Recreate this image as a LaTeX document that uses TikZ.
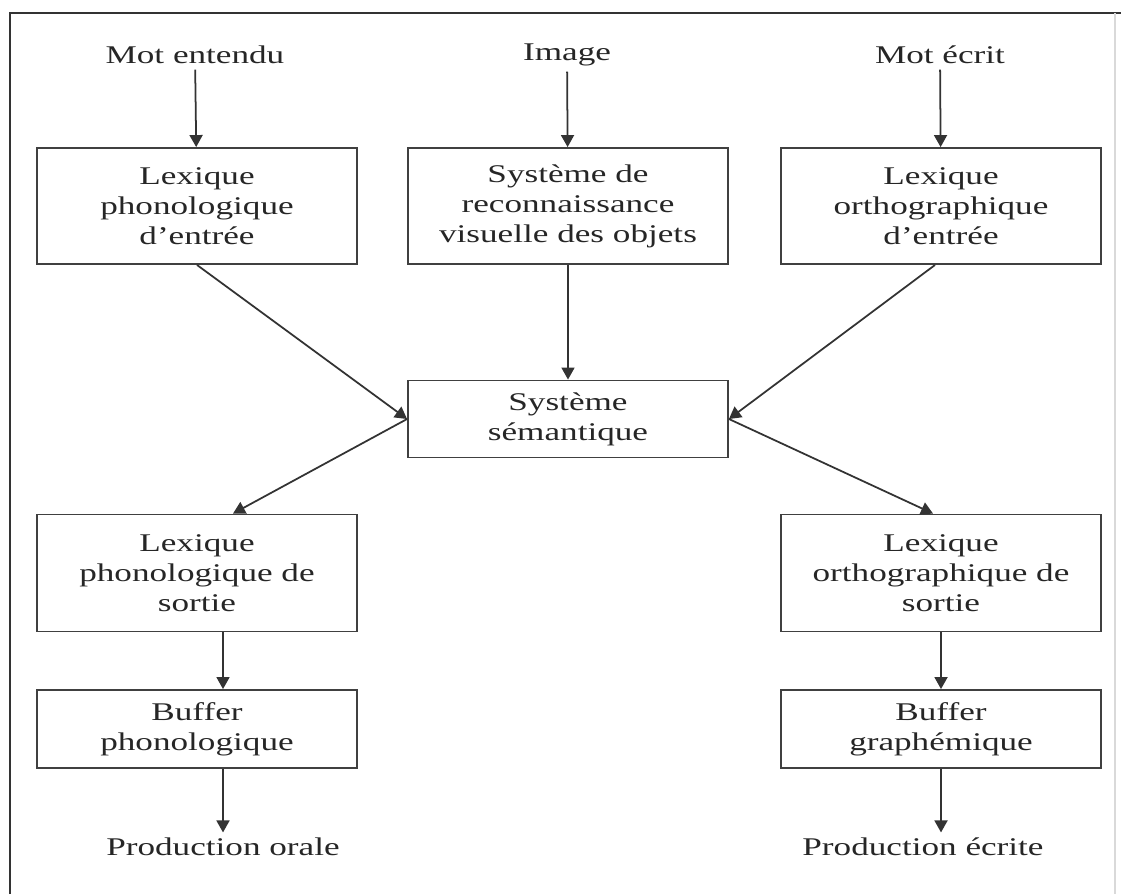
\documentclass[tikz,border=0pt]{standalone}
\usepackage{fontspec}
\setmainfont{Liberation Serif}[FakeStretch=1.38]
\usepackage{tikz}
\usetikzlibrary{arrows.meta}

\begin{document}
\begin{tikzpicture}[x=0.02cm,y=-0.02cm,
  font=\fontsize{14.5}{17}\selectfont,
  module/.style={draw=black!75,line width=1.1pt,minimum width=6.4cm,align=center,text=black!85,inner sep=2pt},
  entree/.style={text=black!85,inner sep=3pt},
  fleche/.style={draw=black!80,line width=1pt,-{Triangle[length=0.24cm,width=0.26cm]}}]
  \useasboundingbox (0,0) rectangle (1121,894);
  % cadre
  \draw[black!80,line width=1.1pt] (10,894) -- (10,13) -- (1121,13);
  \draw[black!15,line width=1pt] (1115,13) -- (1115,894);

  % entrees
  \node[entree] (motE) at (195,55) {Mot entendu};
  \node[entree] (img)  at (567,55) {Image};
  \node[entree] (motC) at (940,55) {Mot écrit};

  \node[module,minimum height=2.32cm] (lexPhE) at (197,206) {Lexique\\phonologique\\d’entrée};
  \node[module,minimum height=2.32cm] (visObj) at (568,206) {Système de\\reconnaissance\\visuelle des objets};
  \node[module,minimum height=2.32cm] (lexOrE) at (941,206) {Lexique\\orthographique\\d’entrée};

  \node[module,minimum height=1.54cm] (sem) at (568,419) {Système\\sémantique};

  \node[module,minimum height=2.34cm] (lexPhS) at (197,573) {Lexique\\phonologique de\\sortie};
  \node[module,minimum height=2.34cm] (lexOrS) at (941,573) {Lexique\\orthographique de\\sortie};

  \node[module,minimum height=1.56cm] (bufPh) at (197,729) {Buffer\\phonologique};
  \node[module,minimum height=1.56cm] (bufGr) at (941,729) {Buffer\\graphémique};

  % sorties
  \node[entree] (prodO) at (223,847) {Production orale};
  \node[entree] (prodE) at (923,847) {Production écrite};

  \draw[fleche] (motE) -- (lexPhE);
  \draw[fleche] (img) -- (visObj);
  \draw[fleche] (motC) -- (lexOrE);

  \draw[fleche] (lexPhE.south) -- (sem.west);
  \draw[fleche] (visObj) -- (sem);
  \draw[fleche] ([xshift=-0.12cm]lexOrE.south) -- (sem.east);

  \draw[fleche] (sem.west) -- ([xshift=0.72cm]lexPhS.north);
  \draw[fleche] (sem.east) -- ([xshift=-0.16cm]lexOrS.north);

  \draw[fleche] (lexPhS.south -| prodO) -- (bufPh.north -| prodO);
  \draw[fleche] (bufPh.south -| prodO) -- (prodO);
  \draw[fleche] (lexOrS) -- (bufGr);
  \draw[fleche] (bufGr.south) -- (bufGr.south |- prodE.north);
\end{tikzpicture}
\end{document}
